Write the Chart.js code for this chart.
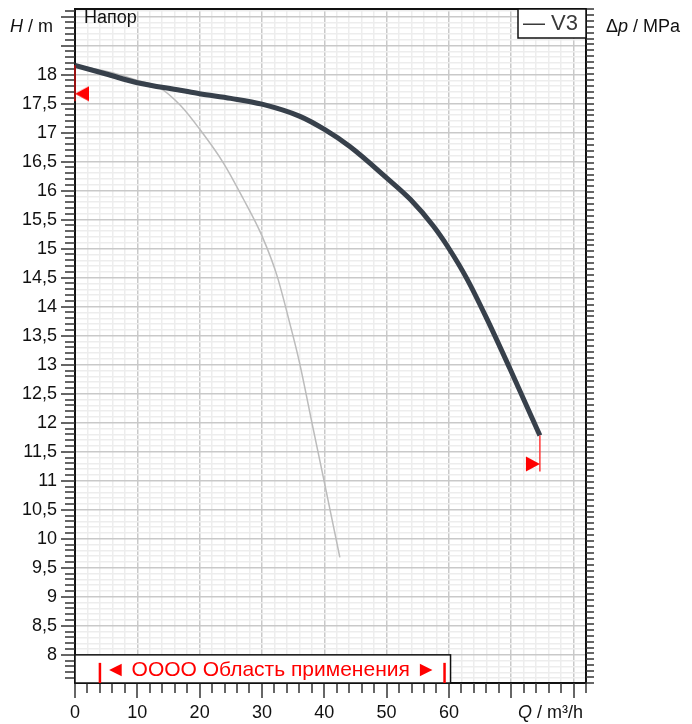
<!DOCTYPE html>
<html>
<head>
<meta charset="utf-8">
<title>Напор</title>
<script src="https://cdn.jsdelivr.net/npm/chart.js@4.4.1/dist/chart.umd.min.js"></script>
<style>
  body { margin: 0; background: #fff; }
  #wrap { width: 692px; height: 724px; }
</style>
</head>
<body>
<div id="wrap"><canvas id="myChart" width="692" height="724"></canvas></div>
<script>
// curve data (Q in m3/h, H in m)
const flowMain = [0, 5, 10, 16.9, 20, 25, 30, 36.1, 40.1, 44.1, 50, 53.8, 57.5, 59.9, 62.9, 66.1, 69.8, 74.6];
const headMain = [18.16, 18.01, 17.86, 17.73, 17.67, 17.59, 17.49, 17.28, 17.05, 16.76, 16.22, 15.85, 15.39, 15.02, 14.48, 13.79, 12.93, 11.78];

const flowGrey = [0, 3, 6, 10, 13.6, 16.9, 20, 23.8, 27, 30, 32.4, 34.5, 36, 38.25, 39.85, 42.5];
const headGrey = [18.15, 18.1, 18.03, 17.9, 17.77, 17.47, 17.06, 16.48, 15.86, 15.22, 14.54, 13.7, 13.05, 11.88, 11.06, 9.68];

// red limit marks at both ends of the curve
const limitQ = [0, 74.6];
const limitMarkH = [17.67, 11.29];
const limitLineTop = [18.16, 11.78];
const limitLineBottom = [17.54, 11.16];

// application range
const rangeQ = [4, 59.3];
const rangeText = '◄ OOOO Область применения ►';

// axes
const qMin = 0, qMax = 82, qLabelMax = 60;
const hMin = 7.515, hMax = 19.13, hLabelMax = 18;
const pMin = 0.0733, pMax = 0.1873;
const pLabels = [0.075, 0.175];

const FONT = '"Liberation Sans", Arial, sans-serif';
const gridMajor = '#c9c9c9';
const gridMinor = '#ededed';

function isStep(v, step) {
  return Math.abs(v / step - Math.round(v / step)) < 1e-6;
}

function comma(v) {
  return String(+v.toFixed(3)).replace('.', ',');
}

// triangles with the tip in the middle of the canvas
function makeTriangle(dir) {
  let c = document.createElement('canvas');
  c.width = 30;
  c.height = 16;
  let g = c.getContext('2d');
  g.fillStyle = '#ff0000';
  g.beginPath();
  if (dir == 'left') {
    g.moveTo(15, 8); g.lineTo(29, 0.6); g.lineTo(29, 15.4);
  } else {
    g.moveTo(15, 8); g.lineTo(1, 0.6); g.lineTo(1, 15.4);
  }
  g.closePath();
  g.fill();
  return c;
}
const triLeft = makeTriangle('left');
const triRight = makeTriangle('right');

function mixedText(ctx, parts, x, y, size) {
  parts.forEach(p => {
    ctx.font = (p[1] ? 'italic ' : '') + size + 'px ' + FONT;
    ctx.fillText(p[0], x, y);
    x += ctx.measureText(p[0]).width;
  });
}

function drawTicks(ctx, scale, step, side, minorLen, majorLen) {
  scale.ticks.forEach(t => {
    let px = Math.round(scale.getPixelForValue(t.value));
    let len = isStep(t.value, step) ? majorLen : minorLen;
    ctx.beginPath();
    if (side == 'left') {
      ctx.moveTo(scale.right - len, px); ctx.lineTo(scale.right, px);
    } else if (side == 'right') {
      ctx.moveTo(scale.left, px); ctx.lineTo(scale.left + len, px);
    } else {
      ctx.moveTo(px, scale.top); ctx.lineTo(px, scale.top + len);
    }
    ctx.stroke();
  });
}

// fixed axis sizes, no extra padding for the end labels
function fixSize(w, h) {
  return s => {
    if (w) s.width = w;
    if (h) s.height = h;
    s.paddingTop = 0;
    s.paddingBottom = 0;
    s.paddingLeft = 0;
    s.paddingRight = 0;
  };
}

const sheet = {
  id: 'sheet',
  beforeDatasetsDraw(chart) {
    const ctx = chart.ctx;
    const a = chart.chartArea;
    ctx.save();
    ctx.strokeStyle = '#111';
    ctx.lineWidth = 2;
    ctx.strokeRect(a.left, a.top, a.right - a.left, a.bottom - a.top);

    ctx.strokeStyle = '#333';
    ctx.lineWidth = 1.5;
    drawTicks(ctx, chart.scales.y, 0.5, 'left', 10, 14);
    drawTicks(ctx, chart.scales.y2, 0.005, 'right', 8, 14);
    drawTicks(ctx, chart.scales.x, 10, 'bottom', 10, 15);
    ctx.restore();
  },
  afterDraw(chart) {
    const ctx = chart.ctx;
    const a = chart.chartArea;
    const xs = chart.scales.x;
    const ys = chart.scales.y;
    ctx.save();
    ctx.textBaseline = 'middle';
    ctx.fillStyle = '#111';

    // axis titles
    mixedText(ctx, [['H', true], [' / m', false]], 10, 27, 18);
    mixedText(ctx, [['Δ', false], ['p', true], [' / MPa', false]], 606, 27, 18);
    mixedText(ctx, [['Q', true], [' / m³/h', false]], 518, 713, 18);

    ctx.font = '18px ' + FONT;
    ctx.fillText('Напор', 84, 18);

    // legend box
    ctx.fillStyle = '#fff';
    ctx.fillRect(518, a.top, a.right - 518, 29);
    ctx.strokeStyle = '#111';
    ctx.lineWidth = 1.5;
    ctx.strokeRect(518, a.top, a.right - 518, 29);
    ctx.fillStyle = '#3a3a3a';
    ctx.font = '22px ' + FONT;
    ctx.fillText('— V3', 523, a.top + 15);

    // application range box
    let r0 = xs.getPixelForValue(rangeQ[0]);
    let r1 = xs.getPixelForValue(rangeQ[1]);
    let top = ys.getPixelForValue(8);
    ctx.fillStyle = '#fff';
    ctx.fillRect(a.left, top, r1 + 6 - a.left, a.bottom - top);
    ctx.strokeRect(a.left, top, r1 + 6 - a.left, a.bottom - top);
    ctx.strokeStyle = '#ff0000';
    ctx.lineWidth = 2.5;
    [r0, r1].forEach(x => {
      ctx.beginPath();
      ctx.moveTo(x, top + 8);
      ctx.lineTo(x, a.bottom);
      ctx.stroke();
    });
    ctx.fillStyle = '#ff0000';
    ctx.font = '21px ' + FONT;
    ctx.fillText(rangeText, r0 + 5, (top + a.bottom) / 2 + 1);

    ctx.restore();
  }
};

let mainPoints = flowMain.map((q, i) => ({x: q, y: headMain[i]}));
let greyPoints = flowGrey.map((q, i) => ({x: q, y: headGrey[i]}));

var ctx = document.getElementById('myChart').getContext('2d');
var chart = new Chart(ctx, {
  type: 'line',
  data: {
    datasets: [
      {
        label: 'marks',
        data: limitQ.map((q, i) => ({x: q, y: limitMarkH[i]})),
        showLine: false,
        pointStyle: [triLeft, triRight],
        pointRadius: 8,
        clip: false
      },
      {
        label: 'left limit',
        data: [{x: limitQ[0], y: limitLineTop[0]}, {x: limitQ[0], y: limitLineBottom[0]}],
        borderColor: '#9a1010',
        borderWidth: 2,
        pointRadius: 0,
        clip: false
      },
      {
        label: 'right limit',
        data: [{x: limitQ[1], y: limitLineTop[1]}, {x: limitQ[1], y: limitLineBottom[1]}],
        borderColor: '#ff3b3b',
        borderWidth: 1.5,
        pointRadius: 0,
        clip: false
      },
      {
        label: 'V3',
        data: mainPoints,
        borderColor: '#37404b',
        borderWidth: 5,
        pointRadius: 0,
        cubicInterpolationMode: 'monotone',
        borderCapStyle: 'butt'
      },
      {
        label: 'grey',
        data: greyPoints,
        borderColor: '#bcbcbc',
        borderWidth: 1.5,
        pointRadius: 0,
        cubicInterpolationMode: 'monotone'
      }
    ]
  },
  options: {
    responsive: false,
    devicePixelRatio: 1,
    animation: false,
    events: [],
    layout: { padding: { top: 5, left: 0, right: 0, bottom: 0 } },
    plugins: {
      legend: { display: false },
      tooltip: { enabled: false }
    },
    scales: {
      x: {
        type: 'linear',
        position: 'bottom',
        min: qMin,
        max: qMax,
        afterFit: fixSize(0, 41),
        border: { display: false },
        grid: {
          drawTicks: false,
          color: c => (c.tick && isStep(c.tick.value, 10)) ? gridMajor : gridMinor,
          lineWidth: 1.5
        },
        ticks: {
          stepSize: 2,
          autoSkip: false,
          maxRotation: 0,
          padding: 19,
          color: '#111',
          font: { family: FONT, size: 18 },
          callback: v => (isStep(v, 10) && v <= qLabelMax) ? String(v) : ''
        }
      },
      y: {
        type: 'linear',
        position: 'left',
        min: hMin,
        max: hMax,
        afterFit: fixSize(75, 0),
        border: { display: false },
        grid: {
          drawTicks: false,
          color: c => (c.tick && isStep(c.tick.value, 0.5)) ? gridMajor : gridMinor,
          lineWidth: 1.5
        },
        ticks: {
          stepSize: 0.1,
          autoSkip: false,
          includeBounds: false,
          padding: 18,
          color: '#111',
          font: { family: FONT, size: 18 },
          callback: v => (isStep(v, 0.5) && v <= hLabelMax) ? comma(v) : ''
        }
      },
      y2: {
        type: 'linear',
        position: 'right',
        min: pMin,
        max: pMax,
        afterFit: fixSize(106, 0),
        border: { display: false },
        grid: { display: false, drawTicks: false },
        ticks: {
          stepSize: 0.001,
          autoSkip: false,
          includeBounds: false,
          padding: 19,
          color: '#111',
          font: { family: FONT, size: 18 },
          callback: v => (isStep(v, 0.005) && v >= pLabels[0] - 1e-6 && v <= pLabels[1] + 1e-6) ? comma(v) : ''
        }
      }
    }
  },
  plugins: [sheet]
});
</script>
</body>
</html>
